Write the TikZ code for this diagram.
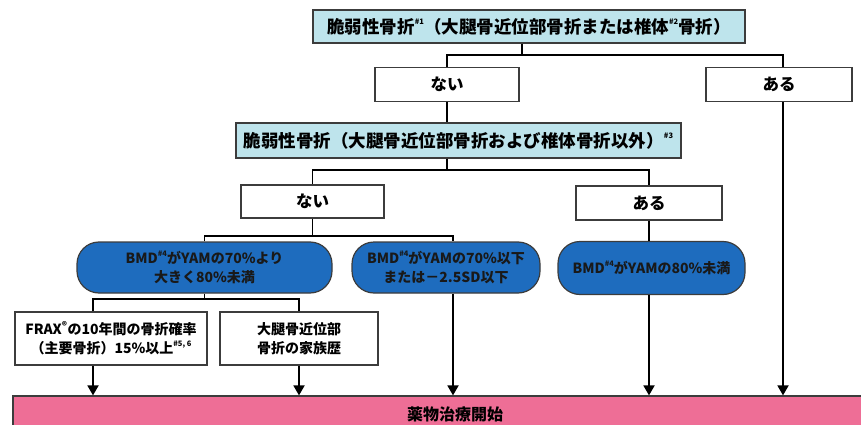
\documentclass[tikz,border=0pt]{standalone}
\usepackage{fontspec}
\setmainfont{Noto Sans CJK JP}
\usetikzlibrary{arrows.meta}
\definecolor{lblue}{RGB}{190,228,236}
\definecolor{dblue}{RGB}{30,108,190}
\definecolor{pinkc}{RGB}{238,110,150}
\definecolor{bord}{RGB}{60,60,60}
\newcommand\refmark[1]{\raisebox{0.5em}{\fontsize{7.5}{8}\selectfont\##1}}
\begin{document}
\begin{tikzpicture}[x=1pt,y=-1pt,
  box/.style={draw=bord,line width=1.3pt,fill=white,minimum height=34pt,inner sep=0pt,font=\fontsize{16.5}{18}\selectfont\bfseries},
  cbox/.style={box,fill=lblue,font=\fontsize{17.5}{19}\selectfont\bfseries},
  rbox/.style={draw=bord,line width=1.2pt,fill=dblue,rounded corners=22pt,minimum height=51pt,inner sep=0pt,align=center,text=black!90,font=\fontsize{14}{19}\selectfont\bfseries},
  wbox/.style={draw=bord,line width=1.2pt,fill=white,minimum height=53pt,inner sep=0pt,align=center,font=\fontsize{14}{19}\selectfont\bfseries},
  conn/.style={line width=1.8pt,black},
  arr/.style={conn,-{Triangle[width=11pt,length=10pt]}}]
\useasboundingbox (0,0) rectangle (861,425);

\node[cbox,minimum width=432pt,minimum height=33pt] (A) at (529,26.5) {脆弱性骨折\refmark{1}（大腿骨近位部骨折または椎体\refmark{2}骨折）};
\node[box,minimum width=144pt] (n1) at (447,84.5) {ない};
\node[box,minimum width=146pt] (a1) at (779,84.5) {ある};
\node[cbox,minimum width=445pt,minimum height=35pt] (B) at (458.5,140.5) {脆弱性骨折（大腿骨近位部骨折および椎体骨折以外）\refmark{3}};
\node[box,minimum width=143pt,minimum height=33pt] (n2) at (312.5,201.5) {ない};
\node[box,minimum width=146pt] (a2) at (649,203) {ある};
\node[rbox,minimum width=255pt] (C1) at (204.5,267.5) {BMD\refmark{4}がYAMの70\%より\\大きく80\%未満};
\node[rbox,minimum width=188pt] (C2) at (446,267.5) {BMD\refmark{4}がYAMの70\%以下\\または－2.5SD以下};
\node[rbox,minimum width=187pt,minimum height=53pt] (C3) at (651.5,268) {BMD\refmark{4}がYAMの80\%未満};
\node[wbox,minimum width=192pt] (D1) at (111,338.5) {FRAX\textsuperscript{®}の10年間の骨折確率\\（主要骨折）15\%以上\refmark{5, 6}};
\node[wbox,minimum width=158pt] (D2) at (299,338.5) {大腿骨近位部\\骨折の家族歴};
\node[draw=bord,line width=1.2pt,fill=pinkc,minimum width=884pt,minimum height=36pt,inner sep=0pt,font=\fontsize{16}{18}\selectfont\bfseries] (E) at (455,414) {薬物治療開始};

\coordinate (h1) at (0,55);
\coordinate (h2) at (0,170);
\coordinate (h3) at (0,236);
\coordinate (h4) at (0,299);

\draw[conn] ([xshift=-7pt]A.south) -- ([xshift=-7pt]A.south |- h1);
\draw[conn] (n1.north) -- (n1.north |- h1) -- ([xshift=4pt]a1.north |- h1) -- ([xshift=4pt]a1.north);
\draw[conn] (n1.south) -- (n1.south |- B.north);
\draw[conn] (n1.south |- B.south) -- (n1.south |- h2);
\draw[conn] (n2.north) -- (n2.north |- h2) -- (a2.north |- h2) -- (a2.north);
\draw[conn] (n2.south) -- (n2.south |- h3);
\draw[conn] (C1.north) -- (C1.north |- h3) -- ([xshift=7pt]C2.north |- h3) -- ([xshift=7pt]C2.north);
\draw[conn] (a2.south) -- (a2.south |- C3.north);
\draw[conn] (C1.south) -- (C1.south |- h4);
\draw[conn] ([xshift=-18pt]D1.north) -- ([xshift=-18pt]D1.north |- h4) -- (D2.north |- h4) -- (D2.north);
\draw[arr] ([xshift=-18pt]D1.south) -- ([xshift=-18pt]D1.south |- E.north);
\draw[arr] (D2.south) -- (D2.south |- E.north);
\draw[arr] ([xshift=7pt]C2.south) -- ([xshift=7pt]C2.south |- E.north);
\draw[arr] (a2.south |- C3.south) -- (a2.south |- E.north);
\draw[arr] ([xshift=4pt]a1.south) -- ([xshift=4pt]a1.south |- E.north);
\end{tikzpicture}
\end{document}
